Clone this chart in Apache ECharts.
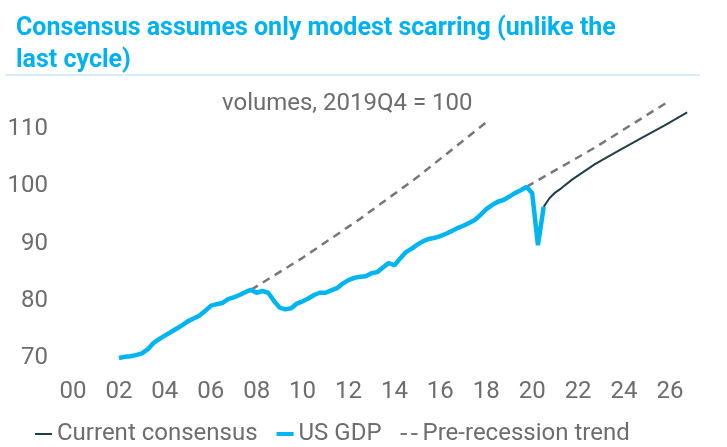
<!DOCTYPE html>
<html>
<head>
<meta charset="utf-8">
<script src="https://cdn.jsdelivr.net/npm/echarts@6/dist/echarts.min.js"></script>
<style>
html,body{margin:0;padding:0;background:#fff;}
#chart{width:727px;height:447px;}
</style>
</head>
<body>
<div id="chart"></div>
<script>
// ---- data ----
const titleText = 'Consensus assumes only modest scarring (unlike the\nlast cycle)';
const subtitleText = 'volumes, 2019Q4 = 100';
const seriesNames = ['Current consensus', 'US GDP', 'Pre-recession trend'];
const yTicks = [70, 80, 90, 100, 110];

// US GDP, quarterly from 2002Q1 to 2020Q3
const gdpStartYear = 2002;
const gdpValues = [
  70.0, 70.2, 70.3, 70.5,   // 2002
  70.8, 71.5, 72.6, 73.3,   // 2003
  73.9, 74.5, 75.1, 75.7,   // 2004
  76.4, 76.9, 77.4, 78.2,   // 2005
  79.1, 79.4, 79.6, 80.3,   // 2006
  80.6, 81.0, 81.5, 81.9,   // 2007
  81.4, 81.7, 81.4, 80.0,   // 2008
  78.8, 78.5, 78.7, 79.5,   // 2009
  79.9, 80.4, 81.0, 81.4,   // 2010
  81.4, 81.8, 82.2, 83.0,   // 2011
  83.6, 84.0, 84.2, 84.3,   // 2012
  84.8, 85.0, 85.8, 86.6,   // 2013
  86.2, 87.4, 88.5, 89.1,   // 2014
  89.8, 90.4, 90.8, 91.0,   // 2015
  91.3, 91.7, 92.2, 92.7,   // 2016
  93.1, 93.6, 94.1, 95.0,   // 2017
  96.0, 96.7, 97.3, 97.6,   // 2018
  98.2, 98.8, 99.3, 99.9,   // 2019
  98.8, 89.7, 96.4          // 2020
];

// Current consensus forecast
const consensusYears  = [2020.5, 2020.75, 2021.0, 2021.25, 2021.75, 2022.75, 2023.75, 2024.75, 2025.75, 2026.75];
const consensusValues = [96.4,   97.9,    98.9,   99.6,    101.2,   103.9,   106.2,   108.4,   110.6,   112.9];

// Pre-recession trends
const trend2008Years  = [2007.75, 2010, 2012.5, 2015, 2018.13];
const trend2008Values = [81.9,    87.5, 94.3,   101.6, 111.6];
const trend2020Years  = [2019.75, 2022.75, 2025.85];
const trend2020Values = [99.9,    106.8,   114.6];

// ---- build ----
const gdpData = gdpValues.map((v, i) => [gdpStartYear + i / 4, v]);
const zip = (xs, ys) => xs.map((x, i) => [x, ys[i]]);

const labelColor = '#6d6d6d';
const fontFam = 'Roboto, "Liberation Sans", sans-serif';
const cTrend = '#777777', cCons = '#1d3f4c', cGdp = '#00b5f2';

const chart = echarts.init(document.getElementById('chart'), null, {renderer: 'canvas'});
chart.setOption({
  animation: false,
  backgroundColor: '#fff',
  title: [
    {
      text: titleText,
      left: 11, top: 8,
      textStyle: {color: '#00b2f0', fontSize: 25, fontWeight: 'bold', fontFamily: fontFam, lineHeight: 32}
    },
    {
      text: subtitleText,
      left: 217, top: 87,
      textStyle: {color: labelColor, fontSize: 24, fontWeight: 'normal', fontFamily: fontFam}
    }
  ],
  graphic: [{
    type: 'line', shape: {x1: 5, y1: 75, x2: 700, y2: 75},
    style: {stroke: '#c9ecfa', lineWidth: 1.5}, silent: true
  }],
  legend: {
    left: 30, top: 417,
    itemWidth: 17, itemHeight: 24, itemGap: 19,
    textStyle: {color: labelColor, fontSize: 24, fontFamily: fontFam},
    data: [
      {name: seriesNames[0], icon: 'path://M0,0H17V2H0Z', itemStyle: {color: cCons, borderWidth: 0}},
      {name: seriesNames[1], icon: 'path://M0,0H17V4H0Z', itemStyle: {color: cGdp, borderWidth: 0}},
      {name: seriesNames[2], icon: 'path://M0,0H6V2H0Z M10,0H16V2H10Z', itemStyle: {color: cTrend, borderWidth: 0}}
    ]
  },
  grid: {left: 73, right: 22.6, top: 100.4, bottom: 89, containLabel: false},
  xAxis: {
    type: 'value', min: 2000, max: 2027.5, interval: 2,
    axisLine: {show: false}, axisTick: {show: false}, splitLine: {show: false},
    axisLabel: {
      color: labelColor, fontSize: 24, fontFamily: fontFam, margin: 22,
      showMaxLabel: false,
      formatter: v => (Math.round(v) % 2 === 0 && Math.abs(v - Math.round(v)) < 1e-6) ? String(Math.round(v) % 100).padStart(2, '0') : ''
    }
  },
  yAxis: {
    type: 'value', min: 70, max: 115, interval: 10,
    axisLine: {show: false}, axisTick: {show: false}, splitLine: {show: false},
    axisLabel: {
      color: labelColor, fontSize: 24, fontFamily: fontFam, margin: 25,
      showMaxLabel: false,
      formatter: v => yTicks.indexOf(v) >= 0 ? String(v) : ''
    }
  },
  series: [
    {
      name: seriesNames[2], type: 'line', symbol: 'none', z: 1,
      data: zip(trend2008Years, trend2008Values),
      lineStyle: {color: cTrend, width: 2.5, type: [8, 6]}, itemStyle: {color: cTrend}
    },
    {
      name: seriesNames[2], type: 'line', symbol: 'none', z: 1,
      data: zip(trend2020Years, trend2020Values),
      lineStyle: {color: cTrend, width: 2.5, type: [8, 6]}, itemStyle: {color: cTrend}
    },
    {
      name: seriesNames[0], type: 'line', symbol: 'none', z: 2,
      data: zip(consensusYears, consensusValues),
      lineStyle: {color: cCons, width: 2}, itemStyle: {color: cCons}
    },
    {
      name: seriesNames[1], type: 'line', symbol: 'none', z: 3,
      data: gdpData,
      lineStyle: {color: cGdp, width: 4.5}, itemStyle: {color: cGdp}
    }
  ]
});
</script>
</body>
</html>
